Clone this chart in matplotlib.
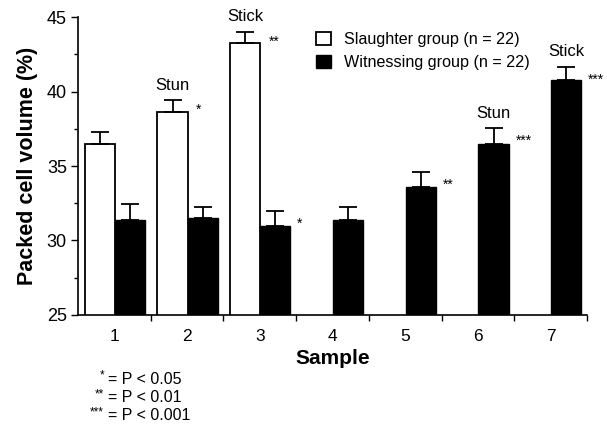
import numpy as np
import matplotlib
matplotlib.use("Agg")
import matplotlib.pyplot as plt
from matplotlib.patches import Patch

plt.rcParams['font.family'] = 'Liberation Sans'

# Data
samples = [1, 2, 3, 4, 5, 6, 7]
slaughter_x = [1, 2, 3]
slaughter_mean = [36.5, 38.6, 43.25]
slaughter_err = [0.8, 0.8, 0.75]
witness_mean = [31.4, 31.5, 31.0, 31.4, 33.6, 36.5, 40.8]
witness_err = [1.05, 0.75, 1.0, 0.85, 1.0, 1.05, 0.85]

# annotation labels
white_labels = {2: "Stun", 3: "Stick"}
white_stars = {2: "*", 3: "**"}
black_labels = {6: "Stun", 7: "Stick"}
black_stars = {3: "*", 5: "**", 6: "***", 7: "***"}

fig = plt.figure(figsize=(6.07, 4.26), dpi=100)
ax = fig.add_axes([0.1285, 0.2606, 0.8385, 0.6994])

w = 0.415
off_w, off_b = -0.2, 0.215
xs = np.array(slaughter_x)
xb = np.array(samples)

ax.bar(xs + off_w, slaughter_mean, width=w, bottom=0, color='white',
       edgecolor='black', linewidth=1.3, zorder=2)
ax.bar(xb + off_b, witness_mean, width=w, color='black',
       edgecolor='black', linewidth=1.0, zorder=2)
ax.errorbar(xs + off_w, slaughter_mean, yerr=[np.zeros(3), slaughter_err],
            fmt='none', ecolor='black', elinewidth=1.3, capsize=6.5,
            capthick=1.3, zorder=3)
ax.errorbar(xb + off_b, witness_mean, yerr=[np.zeros(7), witness_err],
            fmt='none', ecolor='black', elinewidth=1.3, capsize=6.5,
            capthick=1.3, zorder=1)

ax.set_ylim(25, 45)
ax.set_xlim(0.5, 7.5)
ax.set_yticks([25, 30, 35, 40, 45])
ax.set_yticks([27.5, 32.5, 37.5, 42.5], minor=True)
ax.set_xticks(np.arange(1.5, 7.6, 1))
ax.set_xticklabels([])
ax.set_xticks(samples, minor=True)
ax.set_xticklabels([str(s) for s in samples], minor=True)
ax.tick_params(axis='x', which='major', length=4, width=1, direction='out')
ax.tick_params(axis='x', which='minor', length=0, labelsize=12.5, pad=10)
ax.tick_params(axis='y', which='major', length=5, width=1, labelsize=13, pad=3)
ax.tick_params(axis='y', which='minor', length=3, width=1)
for s in ['top', 'right']:
    ax.spines[s].set_visible(False)
for s in ['left', 'bottom']:
    ax.spines[s].set_linewidth(1.2)

ax.set_ylabel("Packed cell volume (%)", fontsize=15.5, fontweight='bold', labelpad=6)
ax.set_xlabel("Sample", fontsize=15, fontweight='bold', labelpad=4)

# annotations
for x, t in white_labels.items():
    top = slaughter_mean[x - 1] + slaughter_err[x - 1]
    ax.text(x + off_w, top + 0.5, t, ha='center', va='bottom', fontsize=12)
for x, t in white_stars.items():
    top = slaughter_mean[x - 1] + slaughter_err[x - 1]
    ax.text(x + off_w + 0.32, top - 1.1, t, ha='left', va='bottom', fontsize=10)
for x, t in black_labels.items():
    top = witness_mean[x - 1] + witness_err[x - 1]
    ax.text(x + off_b, top + 0.5, t, ha='center', va='bottom', fontsize=12)
for x, t in black_stars.items():
    top = witness_mean[x - 1] + witness_err[x - 1]
    ax.text(x + off_b + 0.3, top - 1.35, t, ha='left', va='bottom', fontsize=10,
            clip_on=False)

handles = [Patch(facecolor='white', edgecolor='black', linewidth=1.3),
           Patch(facecolor='black', edgecolor='black')]
ax.legend(handles, ["Slaughter group (n = 22)", "Witnessing group (n = 22)"],
          loc='upper left', bbox_to_anchor=(0.44, 1.0), frameon=False,
          fontsize=11.6, handlelength=0.9, handleheight=0.9, handletextpad=0.8,
          labelspacing=0.5)

# footnote
notes_stars = ["*", "**", "***"]
notes_text = ["= P < 0.05", "= P < 0.01", "= P < 0.001"]
for i, (st, tx) in enumerate(zip(notes_stars, notes_text)):
    y = 379 + i * 18.5
    fy = 1 - y / 426
    fig.text(104 / 607, fy + 0.008, st, ha='right', va='center', fontsize=8.5)
    fig.text(108 / 607, fy, tx, ha='left', va='center', fontsize=11.5)

fig.savefig("out.png", dpi=100)
